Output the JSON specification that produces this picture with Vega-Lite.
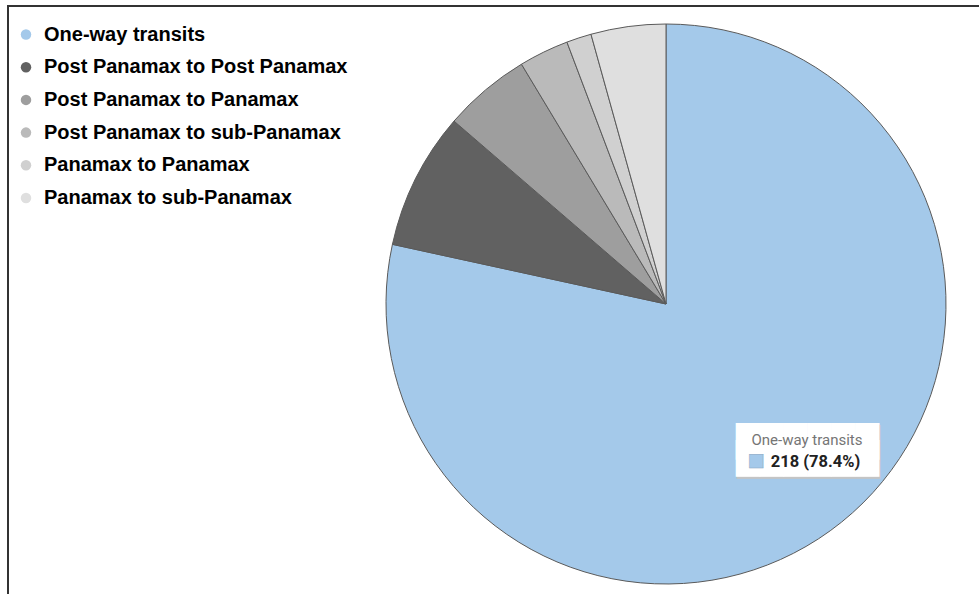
{
  "$schema": "https://vega.github.io/schema/vega-lite/v6.json",
  "width": 1316,
  "height": 596,
  "autosize": {"type": "none"},
  "padding": {"left": 8, "top": 6, "right": -345, "bottom": -8},
  "background": "white",
  "view": {"stroke": "#333333", "strokeWidth": 2, "fill": "white"},
  "config": {"view": {"stroke": "#333333", "strokeWidth": 2}},
  "data": {
    "values": [
      {"category": "One-way transits", "count": 218, "rank": 1},
      {"category": "Post Panamax to Post Panamax", "count": 22, "rank": 2},
      {"category": "Post Panamax to Panamax", "count": 14, "rank": 3},
      {"category": "Post Panamax to sub-Panamax", "count": 8, "rank": 4},
      {"category": "Panamax to Panamax", "count": 4, "rank": 5},
      {"category": "Panamax to sub-Panamax", "count": 12, "rank": 6}
    ]
  },
  "transform": [
    {"joinaggregate": [{"op": "sum", "field": "count", "as": "total"}]},
    {"calculate": "datum.count + ' (' + format(datum.count / datum.total * 100, '.1f') + '%)'", "as": "valueLabel"}
  ],
  "encoding": {
    "theta": {"field": "count", "type": "quantitative", "stack": true},
    "order": {"field": "rank", "type": "quantitative"}
  },
  "layer": [
    {
      "mark": {"type": "arc", "outerRadius": 280, "stroke": "#5a5a5a", "strokeWidth": 1},
      "encoding": {
        "color": {
          "field": "category",
          "type": "nominal",
          "sort": null,
          "scale": {
            "domain": ["One-way transits", "Post Panamax to Post Panamax", "Post Panamax to Panamax", "Post Panamax to sub-Panamax", "Panamax to Panamax", "Panamax to sub-Panamax"],
            "range": ["#a4c9ea", "#616161", "#9e9e9e", "#bababa", "#d0d0d0", "#dfdfdf"]
          },
          "legend": {
            "title": null,
            "orient": "none",
            "legendX": 8,
            "legendY": 18.5,
            "padding": 0,
            "symbolType": "circle",
            "symbolSize": 110,
            "symbolStrokeWidth": 0,
            "labelFont": "Liberation Sans",
            "labelFontSize": 20,
            "labelFontWeight": "bold",
            "labelColor": "#000000",
            "labelOffset": 8,
            "rowPadding": 12.7,
            "labelLimit": 600
          }
        }
      }
    },
    {
      "mark": {"type": "text", "radius": 200, "font": "DejaVu Sans", "fontSize": 31, "lineHeight": 17, "align": "center", "baseline": "middle", "color": "#c4c4c4", "dx": 17, "dy": -15},
      "encoding": {
        "detail": {"field": "category"},
        "text": {"condition": {"test": "datum.rank === 1", "value": ["██████", "██████"]}, "value": ""}
      }
    },
    {
      "mark": {"type": "text", "radius": 200, "font": "DejaVu Sans", "fontSize": 31, "lineHeight": 17, "align": "center", "baseline": "middle", "color": "#ffffff", "dx": 16, "dy": -17},
      "encoding": {
        "detail": {"field": "category"},
        "text": {"condition": {"test": "datum.rank === 1", "value": ["██████", "██████"]}, "value": ""}
      }
    },
    {
      "mark": {"type": "text", "radius": 200, "font": "Roboto", "fontSize": 15, "align": "left", "baseline": "alphabetic", "color": "#757575", "dx": -40, "dy": -14.6},
      "encoding": {
        "detail": {"field": "category"},
        "text": {"condition": {"test": "datum.rank === 1", "field": "category"}, "value": ""}
      }
    },
    {
      "mark": {"type": "text", "radius": 200, "font": "DejaVu Sans", "fontSize": 18, "align": "left", "baseline": "middle", "color": "#a4c9ea", "stroke": "#8aa6c0", "strokeWidth": 0.5, "dx": -44, "dy": 1.5},
      "encoding": {
        "detail": {"field": "category"},
        "text": {"condition": {"test": "datum.rank === 1", "value": "■"}, "value": ""}
      }
    },
    {
      "mark": {"type": "text", "radius": 200, "font": "Roboto", "fontSize": 16.5, "fontWeight": "bold", "align": "left", "baseline": "alphabetic", "color": "#212121", "dx": -20.6, "dy": 7.1},
      "encoding": {
        "detail": {"field": "category"},
        "text": {"condition": {"test": "datum.rank === 1", "field": "valueLabel"}, "value": ""}
      }
    }
  ]
}
